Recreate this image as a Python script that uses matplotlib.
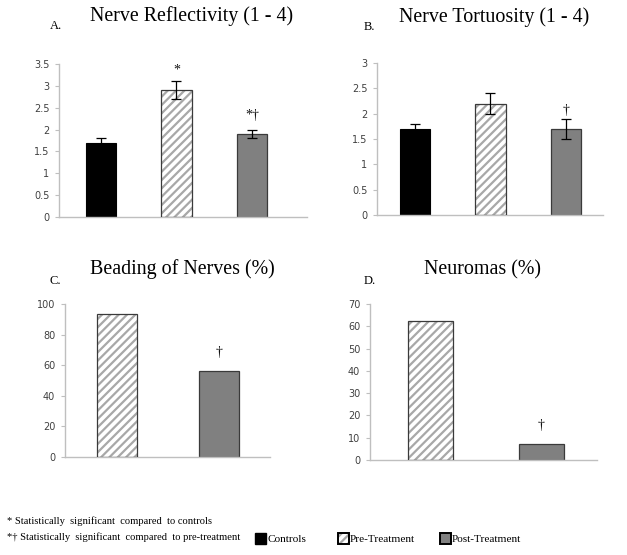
import matplotlib
matplotlib.use("Agg")
import matplotlib.pyplot as plt
from matplotlib.patches import Rectangle
import numpy as np

plt.rcParams['hatch.linewidth'] = 1.6

# ---- data ----
groups3 = ["Controls", "Pre-Treatment", "Post-Treatment"]
groups2 = ["Pre-Treatment", "Post-Treatment"]

reflect_vals = [1.7, 2.9, 1.9]
reflect_err = [0.1, 0.2, 0.1]
reflect_marks = ["", "*", "*\u2020"]

tort_vals = [1.7, 2.2, 1.7]
tort_err = [0.1, 0.2, 0.2]
tort_marks = ["", "", "\u2020"]

beading_vals = [93.5, 56]
beading_marks = ["", "\u2020"]

neuroma_vals = [62.3, 7.4]
neuroma_marks = ["", "\u2020"]

BLACK = "#000000"
GRAY = "#808080"
HATCHC = "#a8a8a8"
EDGE = "#3a3a3a"
AXC = "#bfbfbf"
TICKC = "#404040"

W, H = 627, 555
fig = plt.figure(figsize=(W / 100, H / 100), dpi=100)
SERIF = "Liberation Serif"
TITLE_FS = 14.4


def px_axes(left, right, top, bottom):
    return fig.add_axes([left / W, 1 - bottom / H, (right - left) / W, (bottom - top) / H])


def style(ax, ymax, step, fmt):
    for s in ["top", "right"]:
        ax.spines[s].set_visible(False)
    for s in ["left", "bottom"]:
        ax.spines[s].set_color(AXC)
        ax.spines[s].set_linewidth(1.0)
    ax.set_ylim(0, ymax)
    ticks = np.arange(0, ymax + step / 2, step)
    ax.set_yticks(ticks)
    ax.set_yticklabels([fmt(t) for t in ticks])
    ax.tick_params(axis="y", length=3, color=AXC, labelsize=7, labelcolor=TICKC, pad=4)
    ax.tick_params(axis="x", length=0, labelbottom=False)


def draw_bars(ax, names, vals, width, err=None):
    xs = list(range(len(vals)))
    for i, (n, v) in enumerate(zip(names, vals)):
        if n == "Controls":
            ax.bar(i, v, width, color=BLACK, edgecolor=BLACK, linewidth=0.8, zorder=2)
        elif n == "Pre-Treatment":
            ax.bar(i, v, width, color="white", edgecolor=HATCHC, hatch="////", linewidth=0, zorder=2)
            ax.bar(i, v, width, fill=False, edgecolor=EDGE, linewidth=0.9, zorder=3)
        else:
            ax.bar(i, v, width, color=GRAY, edgecolor=EDGE, linewidth=0.9, zorder=2)
    if err is not None:
        ax.errorbar(xs, vals, yerr=err, fmt="none", ecolor="#000000", elinewidth=0.9,
                    capsize=3.5, capthick=0.9, zorder=4)


def marks(ax, ys, labels):
    for i, (y, t) in enumerate(zip(ys, labels)):
        if t:
            ax.text(i, y, t, ha="center", va="bottom", fontsize=10, family=SERIF, color="#111111")


def fmt_dec(t):
    return ("%g" % t)


# Panel A
axA = px_axes(59, 307, 64, 217)
draw_bars(axA, groups3, reflect_vals, 0.40, reflect_err)
axA.set_xlim(-0.556, 2.73)
style(axA, 3.5, 0.5, fmt_dec)
marks(axA, [0, 3.22, 2.17], reflect_marks)
fig.text(192 / W, 1 - 16 / H, "Nerve Reflectivity (1 - 4)", ha="center", va="center",
         family=SERIF, fontsize=TITLE_FS)
fig.text(50 / W, 1 - 26 / H, "A.", ha="left", va="center", family=SERIF, fontsize=9)

# Panel B
axB = px_axes(377, 603, 63, 215)
draw_bars(axB, groups3, tort_vals, 0.40, tort_err)
axB.set_xlim(-0.503, 2.49)
style(axB, 3.0, 0.5, fmt_dec)
marks(axB, [0, 0, 1.93], tort_marks)
fig.text(494 / W, 1 - 17 / H, "Nerve Tortuosity (1 - 4)", ha="center", va="center",
         family=SERIF, fontsize=TITLE_FS)
fig.text(364 / W, 1 - 27 / H, "B.", ha="left", va="center", family=SERIF, fontsize=9)

# Panel C
axC = px_axes(65, 270, 304, 457)
draw_bars(axC, groups2, beading_vals, 0.39)
axC.set_xlim(-0.51, 1.5)
style(axC, 100, 20, lambda t: "%d" % t)
marks(axC, [0, 64], beading_marks)
fig.text(182 / W, 1 - 269 / H, "Beading of Nerves (%)", ha="center", va="center",
         family=SERIF, fontsize=TITLE_FS)
fig.text(50 / W, 1 - 281 / H, "C.", ha="left", va="center", family=SERIF, fontsize=9)

# Panel D
axD = px_axes(370, 597, 304, 460)
draw_bars(axD, groups2, neuroma_vals, 0.405)
axD.set_xlim(-0.545, 1.5)
style(axD, 70, 10, lambda t: "%d" % t)
marks(axD, [0, 12.5], neuroma_marks)
fig.text(483 / W, 1 - 270 / H, "Neuromas (%)", ha="center", va="center",
         family=SERIF, fontsize=TITLE_FS)
fig.text(364 / W, 1 - 281 / H, "D.", ha="left", va="center", family=SERIF, fontsize=9)

# Footnotes
fig.text(7 / W, 1 - 521 / H, "* Statistically  significant  compared  to controls",
         ha="left", va="center", family=SERIF, fontsize=7.6)
fig.text(7 / W, 1 - 537 / H, "*\u2020 Statistically  significant  compared  to pre-treatment",
         ha="left", va="center", family=SERIF, fontsize=7.6)

# Legend
leg_x = [255, 338, 440]
for x, n in zip(leg_x, groups3):
    if n == "Controls":
        fig.patches.append(Rectangle((x / W, 1 - 544 / H), 11 / W, 11 / H, transform=fig.transFigure,
                                     facecolor=BLACK, edgecolor=BLACK, linewidth=1.0))
    elif n == "Pre-Treatment":
        fig.patches.append(Rectangle((x / W, 1 - 544 / H), 11 / W, 11 / H, transform=fig.transFigure,
                                     facecolor="white", edgecolor=HATCHC, hatch="////", linewidth=0))
        fig.patches.append(Rectangle((x / W, 1 - 544 / H), 11 / W, 11 / H, transform=fig.transFigure,
                                     fill=False, edgecolor=BLACK, linewidth=1.4))
    else:
        fig.patches.append(Rectangle((x / W, 1 - 544 / H), 11 / W, 11 / H, transform=fig.transFigure,
                                     facecolor=GRAY, edgecolor=BLACK, linewidth=1.4))
    fig.text((x + 12) / W, 1 - 539 / H, n, ha="left", va="center", family=SERIF, fontsize=8.1)

fig.savefig("out.png", dpi=100)
